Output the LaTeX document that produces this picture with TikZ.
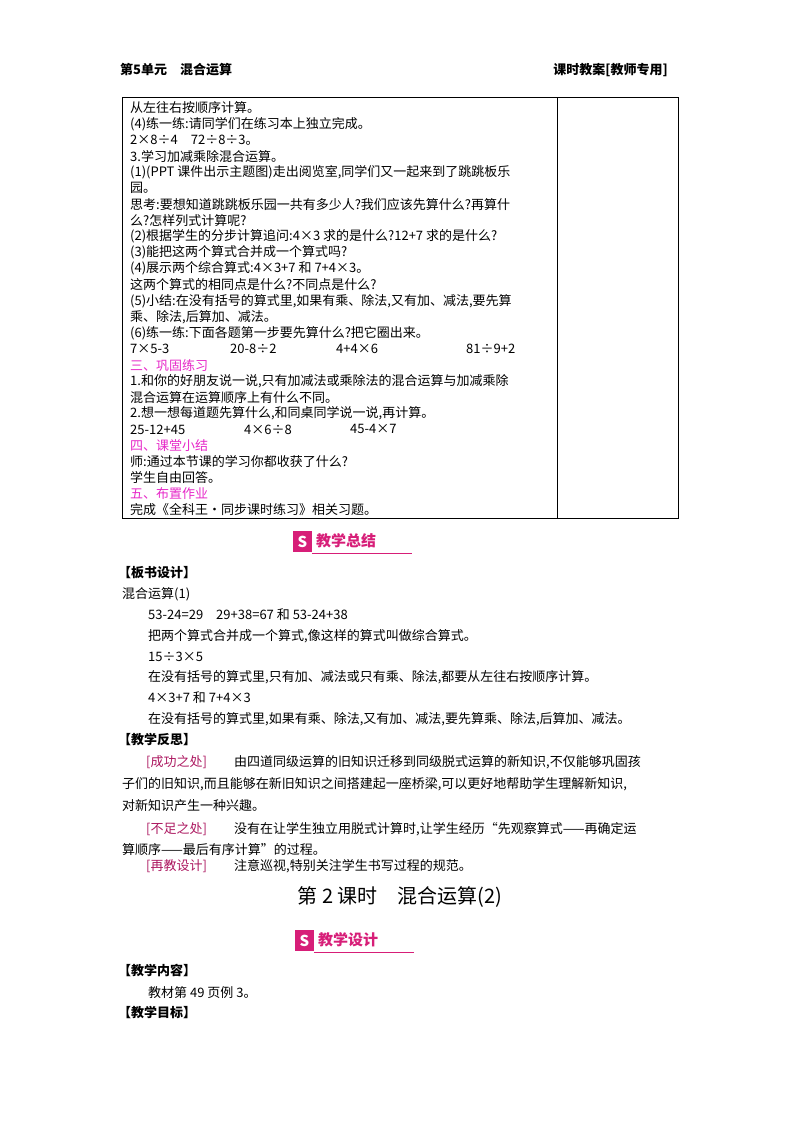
\documentclass[tikz,border=0pt]{standalone}
\usepackage{fontspec}
\setmainfont{Noto Sans CJK SC}
\definecolor{mag}{RGB}{230,40,200}
\definecolor{ban}{RGB}{215,30,120}
\begin{document}
\begin{tikzpicture}[x=1pt,y=-1pt,
  t/.style={anchor=west,inner sep=0pt,font=\fontsize{13}{13}\selectfont},
  m/.style={t,text=mag},
  r/.style={t,text=ban!80!black}]
\useasboundingbox (0,0) rectangle (800,1132);
\node[t,font=\fontsize{13}{13}\selectfont\bfseries] (h1) at (120,70) {第5单元\quad 混合运算};
\node[t,anchor=east,font=\fontsize{13}{13}\selectfont\bfseries] (h2) at (668,70) {课时教案[教师专用]};
\draw[line width=1pt] (122,97) rectangle (678,518);
\draw[line width=0.8pt] (557,97) -- (557,518);
\foreach \i/\s in {0/从左往右按顺序计算。,1/(4)练一练:请同学们在练习本上独立完成。,2/2×8÷4\quad 72÷8÷3。,3/3.学习加减乘除混合运算。,4/(1)(PPT 课件出示主题图)走出阅览室{,}同学们又一起来到了跳跳板乐,5/园。,6/思考:要想知道跳跳板乐园一共有多少人?我们应该先算什么?再算什,7/么?怎样列式计算呢?,8/(2)根据学生的分步计算追问:4×3 求的是什么?12+7 求的是什么?,9/(3)能把这两个算式合并成一个算式吗?,10/(4)展示两个综合算式:4×3+7 和 7+4×3。,11/这两个算式的相同点是什么?不同点是什么?,12/(5)小结:在没有括号的算式里{,}如果有乘、除法{,}又有加、减法{,}要先算,13/乘、除法{,}后算加、减法。,14/(6)练一练:下面各题第一步要先算什么?把它圈出来。,17/1.和你的好朋友说一说{,}只有加减法或乘除法的混合运算与加减乘除,18/混合运算在运算顺序上有什么不同。,19/2.想一想每道题先算什么{,}和同桌同学说一说{,}再计算。,22/师:通过本节课的学习你都收获了什么?,23/学生自由回答。,25/完成《全科王·同步课时练习》相关习题。}
  \node[t] (l\i) at (130,108+16.07*\i) {\s};
\node[t] (a1) at (130,349) {7×5-3};
\node[t] (a2) at (230,349) {20-8÷2};
\node[t] (a3) at (336,349) {4+4×6};
\node[t] (a4) at (466,349) {81÷9+2};
\node[m] (s3) at (130,365.1) {三、巩固练习};
\node[t] (b1) at (130,429.4) {25-12+45};
\node[t] (b2) at (244,429.4) {4×6÷8};
\node[t] (b3) at (350,429.4) {45-4×7};
\node[m] (s4) at (130,445.5) {四、课堂小结};
\node[m] (s5) at (130,493.7) {五、布置作业};
% banner 1
\fill[ban] (293,531) rectangle (312,552);
\node[text=white,font=\fontsize{15}{15}\selectfont\bfseries,inner sep=0pt] (i1) at (302.5,541.5) {S};
\node[anchor=west,inner sep=0pt,text=ban,font=\fontsize{15}{15}\selectfont\bfseries] (bn1) at (316,541) {教学总结};
\draw[ban,line width=1pt] (312,553) -- (412,553);
\node[t,font=\fontsize{13}{13}\selectfont\bfseries] (k1) at (118,573) {【板书设计】};
\node[t] (k2) at (122,594) {混合运算(1)};
\node[t] (k3) at (148,615) {53-24=29\quad 29+38=67 和 53-24+38};
\node[t] (k4) at (148,636) {把两个算式合并成一个算式{,}像这样的算式叫做综合算式。};
\node[t] (k5) at (148,657) {15÷3×5};
\node[t] (k6) at (148,677) {在没有括号的算式里{,}只有加、减法或只有乘、除法{,}都要从左往右按顺序计算。};
\node[t] (k7) at (148,698) {4×3+7 和 7+4×3};
\node[t] (k8) at (148,719) {在没有括号的算式里{,}如果有乘、除法{,}又有加、减法{,}要先算乘、除法{,}后算加、减法。};
\node[t,font=\fontsize{13}{13}\selectfont\bfseries] (k9) at (118,740) {【教学反思】};
\node[r] (c1) at (146,762) {[成功之处]};
\node[t] (c1t) at (234,762) {由四道同级运算的旧知识迁移到同级脱式运算的新知识{,}不仅能够巩固孩};
\node[t] (c2) at (122,784) {子们的旧知识{,}而且能够在新旧知识之间搭建起一座桥梁{,}可以更好地帮助学生理解新知识{,}};
\node[t] (c3) at (122,806) {对新知识产生一种兴趣。};
\node[r] (d1) at (146,829) {[不足之处]};
\node[t] (d1t) at (234,829) {没有在让学生独立用脱式计算时{,}让学生经历“先观察算式——再确定运};
\node[t] (d2) at (122,850) {算顺序——最后有序计算”的过程。};
\node[r] (e1) at (146,866) {[再教设计]};
\node[t] (e1t) at (234,866) {注意巡视{,}特别关注学生书写过程的规范。};
\node[anchor=center,inner sep=0pt,font=\fontsize{20}{20}\selectfont] (title) at (400,897) {第 2 课时\quad 混合运算(2)};
% banner 2
\fill[ban] (295,930) rectangle (314,951);
\node[text=white,font=\fontsize{15}{15}\selectfont\bfseries,inner sep=0pt] (i2) at (304.5,940.5) {S};
\node[anchor=west,inner sep=0pt,text=ban,font=\fontsize{15}{15}\selectfont\bfseries] (bn2) at (318,940) {教学设计};
\draw[ban,line width=1pt] (314,952) -- (414,952);
\node[t,font=\fontsize{13}{13}\selectfont\bfseries] (n1) at (118,970) {【教学内容】};
\node[t] (n2) at (148,993) {教材第 49 页例 3。};
\node[t,font=\fontsize{13}{13}\selectfont\bfseries] (n3) at (118,1013) {【教学目标】};
\end{tikzpicture}
\end{document}
